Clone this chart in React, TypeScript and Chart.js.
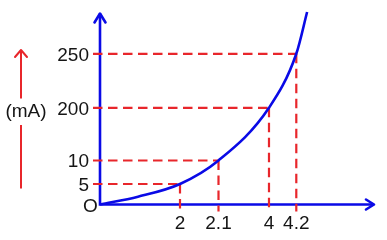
import React, { useEffect, useRef } from 'react';
import { Chart, registerables, LinearScale } from 'chart.js';

Chart.register(...registerables);

// ---------------- data ----------------
const voltageMarks = [2, 2.1, 4, 4.2];          // x values of the dashed guides
const currentMarks = [5, 10, 200, 250];          // y values (mA) of the dashed guides
const xTickLabels = ['2', '2.1', '4', '4.2'];
const yTickLabels = ['5', '10', '200', '250'];
const originLabel = 'O';
const unitLabel = '(mA)';
// curve (in the schematic axes' units)
const curveVoltage = [0, 0.95, 2, 2.1, 4, 4.2, 4.31];
const curveCurrent = [0, 1.9, 5, 10, 200, 250, 300];
const xAxisEnd = 5;
const yAxisEnd = 300;

// ---------------- schematic (non-proportional) axis layout ----------------
const xKnotFrac = [0, 0.2909, 0.4309, 0.6145, 0.7138, 1];
const yKnotFrac = [0, 0.1065, 0.2286, 0.5023, 0.7829, 1];

const KNOTS: Record<string, { v: number[]; f: number[] }> = {
  x: { v: [0, ...voltageMarks, xAxisEnd], f: xKnotFrac },
  y: { v: [0, ...currentMarks, yAxisEnd], f: yKnotFrac },
};

function toFrac(val: number, k: { v: number[]; f: number[] }) {
  const { v, f } = k;
  let i = 0;
  if (val >= v[v.length - 1]) i = v.length - 2;
  else if (val > v[0]) {
    while (i < v.length - 2 && val > v[i + 1]) i++;
  }
  return f[i] + ((val - v[i]) / (v[i + 1] - v[i])) * (f[i + 1] - f[i]);
}
function fromFrac(d: number, k: { v: number[]; f: number[] }) {
  const { v, f } = k;
  let i = 0;
  if (d >= f[f.length - 1]) i = f.length - 2;
  else if (d > f[0]) {
    while (i < f.length - 2 && d > f[i + 1]) i++;
  }
  return v[i] + ((d - f[i]) / (f[i + 1] - f[i])) * (v[i + 1] - v[i]);
}

class SchematicScale extends LinearScale {
  static id = 'schematic';
  static defaults = LinearScale.defaults;
  getPixelForValue(value: any) {
    if (value === null || value === undefined || isNaN(+value)) return NaN;
    return this.getPixelForDecimal(toFrac(+value, KNOTS[(this as any).axis]));
  }
  getValueForPixel(pixel: number) {
    return fromFrac(this.getDecimalForPixel(pixel), KNOTS[(this as any).axis]);
  }
}
Chart.register(SchematicScale as any);

const BLUE = '#0a0ae6';
const RED = '#e8262b';
const TEXT = '#151515';
const FONT_FAMILY = "Arial, 'Liberation Sans', sans-serif";

const decorPlugin = {
  id: 'decor',
  beforeDatasetsDraw(chart: any) {
    const { ctx } = chart;
    const x = chart.scales.x;
    const y = chart.scales.y;
    const x0 = x.getPixelForValue(0);
    const y0 = y.getPixelForValue(0);
    const xEnd = x.getPixelForValue(xAxisEnd) - 1;
    const yEnd = y.getPixelForValue(yAxisEnd) + 1.5;
    ctx.save();
    // axes
    ctx.strokeStyle = BLUE;
    ctx.lineWidth = 2.6;
    ctx.lineJoin = 'miter';
    ctx.beginPath();
    ctx.moveTo(x0, yEnd);
    ctx.lineTo(x0, y0);
    ctx.lineTo(xEnd, y0);
    ctx.stroke();
    ctx.lineJoin = 'round';
    ctx.lineCap = 'round';
    ctx.beginPath();
    ctx.moveTo(x0 - 5.5, yEnd + 9);
    ctx.lineTo(x0, yEnd);
    ctx.lineTo(x0 + 5.5, yEnd + 9);
    ctx.stroke();
    ctx.beginPath();
    ctx.moveTo(xEnd - 8, y0 - 5);
    ctx.lineTo(xEnd, y0);
    ctx.lineTo(xEnd - 8, y0 + 5);
    ctx.stroke();
    // dashed guides
    ctx.lineCap = 'butt';
    ctx.strokeStyle = RED;
    ctx.lineWidth = 2.2;
    ctx.setLineDash([9.5, 5.5]);
    voltageMarks.forEach((v, i) => {
      const px = x.getPixelForValue(v);
      const py = y.getPixelForValue(currentMarks[i]);
      ctx.beginPath();
      ctx.moveTo(x0 - 7, py);
      ctx.lineTo(px, py);
      ctx.stroke();
      ctx.beginPath();
      ctx.moveTo(px, py);
      ctx.lineTo(px, y0 + 7);
      ctx.stroke();
    });
    ctx.restore();
  },
  afterDraw(chart: any) {
    const { ctx } = chart;
    const x = chart.scales.x;
    const y = chart.scales.y;
    ctx.save();
    // red unit arrow
    ctx.strokeStyle = RED;
    ctx.lineWidth = 2;
    ctx.lineCap = 'butt';
    ctx.beginPath();
    ctx.moveTo(21, 50);
    ctx.lineTo(21, 98.5);
    ctx.moveTo(21, 125);
    ctx.lineTo(21, 188.5);
    ctx.stroke();
    ctx.lineJoin = 'round';
    ctx.lineCap = 'round';
    ctx.beginPath();
    ctx.moveTo(15, 57);
    ctx.lineTo(21, 50);
    ctx.lineTo(27, 57);
    ctx.stroke();
    // texts
    ctx.fillStyle = TEXT;
    ctx.font = `19px ${FONT_FAMILY}`;
    ctx.textAlign = 'center';
    ctx.textBaseline = 'middle';
    ctx.fillText(unitLabel, 26, 112);
    ctx.fillText(originLabel, x.getPixelForValue(0) - 9.5, y.getPixelForValue(0) + 2.5);
    ctx.restore();
  },
};

export default function App() {
  const ref = useRef<HTMLCanvasElement | null>(null);
  useEffect(() => {
    const canvas = ref.current;
    if (!canvas) return;
    const tickFont = { family: FONT_FAMILY, size: 19 };
    const chart = new Chart(canvas, {
      type: 'line',
      data: {
        datasets: [
          {
            data: curveVoltage.map((v, i) => ({ x: v, y: curveCurrent[i] })),
            borderColor: BLUE,
            borderWidth: 2.6,
            pointRadius: 0,
            cubicInterpolationMode: 'monotone',
            fill: false,
            clip: false as any,
          } as any,
        ],
      },
      options: {
        animation: false,
        responsive: false,
        events: [],
        layout: { padding: { left: 0, right: 12, top: 12, bottom: 0 } },
        plugins: {
          legend: { display: false },
          tooltip: { enabled: false },
          title: { display: false },
        },
        scales: {
          x: {
            type: 'schematic' as any,
            min: 0,
            max: xAxisEnd,
            grid: { display: false, drawTicks: false },
            border: { display: false },
            afterBuildTicks: (s: any) => {
              s.ticks = voltageMarks.map((v) => ({ value: v }));
            },
            afterFit: (s: any) => {
              s.height = 35.5;
              s.paddingLeft = 0;
              s.paddingRight = 0;
            },
            ticks: {
              autoSkip: false,
              maxRotation: 0,
              minRotation: 0,
              padding: 7.6,
              color: TEXT,
              font: tickFont,
              callback: (_v: any, i: number) => xTickLabels[i],
            },
          } as any,
          y: {
            type: 'schematic' as any,
            min: 0,
            max: yAxisEnd,
            grid: { display: false, drawTicks: false },
            border: { display: false },
            afterBuildTicks: (s: any) => {
              s.ticks = currentMarks.map((v) => ({ value: v }));
            },
            afterFit: (s: any) => {
              s.width = 100;
              s.paddingTop = 0;
              s.paddingBottom = 0;
            },
            ticks: {
              autoSkip: false,
              padding: 11,
              labelOffset: 1.5,
              color: TEXT,
              font: tickFont,
              callback: (_v: any, i: number) => yTickLabels[i],
            },
          } as any,
        },
      },
      plugins: [decorPlugin],
    });
    return () => chart.destroy();
  }, []);
  return (
    <div style={{ position: 'absolute', left: 0, top: 0, width: 387, height: 240, background: '#fff' }}>
      <canvas ref={ref} width={387} height={240} style={{ display: 'block', width: 387, height: 240 }} />
    </div>
  );
}
